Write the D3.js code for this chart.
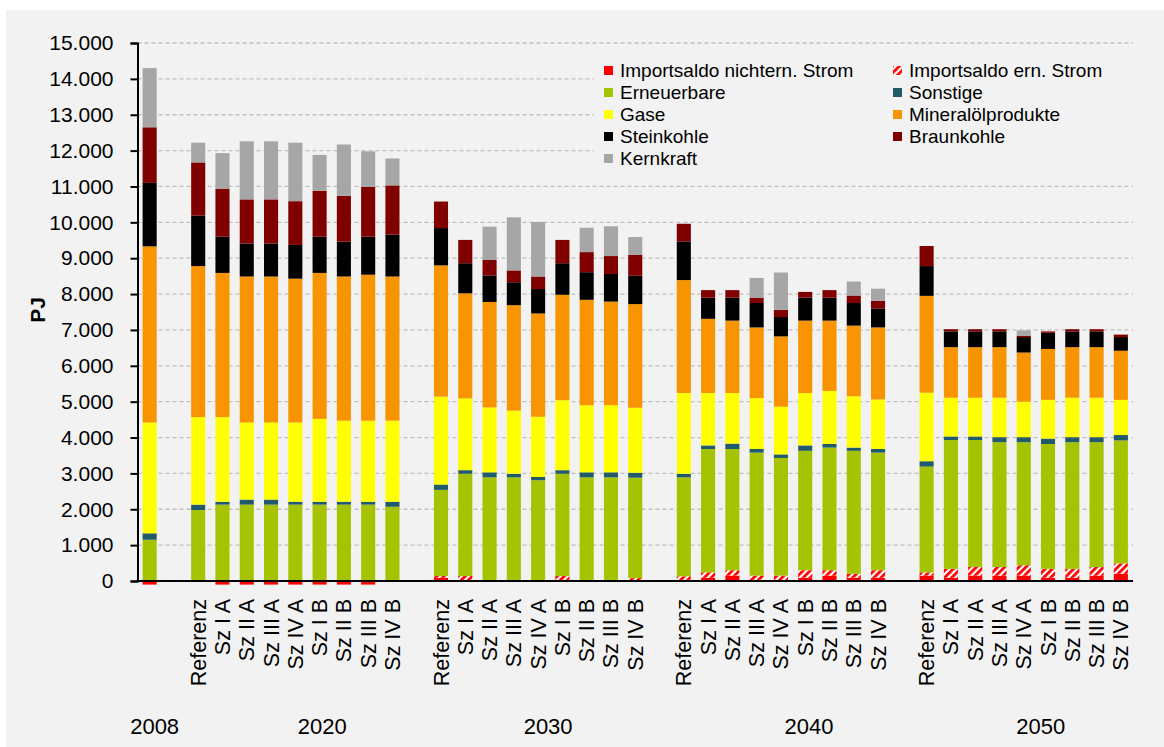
<!DOCTYPE html>
<html>
<head>
<meta charset="utf-8">
<script src="https://cdn.jsdelivr.net/npm/d3@7/dist/d3.min.js"></script>
<style>
  body { margin: 0; background: #fff; }
  svg { display: block; font-family: "Liberation Sans", Arial, sans-serif; }
</style>
</head>
<body>
<svg width="1164" height="747"></svg>
<script>
// years (outer labels) and scenarios (inner labels)
var years = ["2008", "2020", "2030", "2040", "2050"];
var scenarios = ["Referenz", "Sz I A", "Sz II A", "Sz III A", "Sz IV A", "Sz I B", "Sz II B", "Sz III B", "Sz IV B"];
var yearOffsets = [5, 27, 10, 28, 17]; // excel puts the year labels a bit off-centre

var yTicks = [0, 1000, 2000, 3000, 4000, 5000, 6000, 7000, 8000, 9000, 10000, 11000, 12000, 13000, 14000, 15000];

// series values, PJ: 2008, then 9 scenarios each for 2020, 2030, 2040, 2050
var importNichtErn = [-100,
  0, -100, -100, -100, -100, -100, -100, -100, 0,
  90, 0, 0, 0, 20, 0, 0, 0, 0,
  0, 90, 150, 0, 0, 90, 150, 90, 90,
  150, 90, 150, 150, 150, 90, 90, 150, 200];
var importErn = [0,
  0, 0, 0, 0, 0, 0, 0, 0, 0,
  50, 140, 0, 0, 0, 140, 0, 0, 80,
  130, 150, 150, 150, 150, 210, 150, 110, 210,
  90, 250, 240, 240, 290, 250, 250, 240, 290];
var erneuerbare = [1150,
  1980, 2130, 2130, 2130, 2130, 2130, 2130, 2130, 2070,
  2400, 2850, 2890, 2890, 2790, 2850, 2890, 2890, 2800,
  2760, 3440, 3380, 3430, 3280, 3330, 3420, 3430, 3280,
  2950, 3590, 3540, 3480, 3430, 3480, 3530, 3480, 3430];
var sonstige = [180,
  150, 80, 140, 140, 80, 80, 80, 80, 140,
  150, 100, 140, 100, 90, 100, 140, 140, 140,
  100, 100, 150, 100, 100, 150, 100, 90, 100,
  150, 100, 100, 140, 140, 150, 140, 140, 150];
var gase = [3090,
  2440, 2360, 2150, 2150, 2210, 2310, 2260, 2260, 2260,
  2450, 2000, 1810, 1760, 1680, 1950, 1870, 1870, 1810,
  2250, 1460, 1410, 1420, 1330, 1460, 1480, 1430, 1380,
  1910, 1080, 1080, 1100, 990, 1080, 1100, 1100, 980];
var mineraloel = [4910,
  4210, 4020, 4070, 4070, 4010, 4070, 4020, 4070, 4020,
  3660, 2930, 2940, 2940, 2880, 2940, 2940, 2890, 2890,
  3150, 2070, 2020, 1970, 1960, 2020, 1960, 1970, 2010,
  2700, 1410, 1410, 1410, 1370, 1420, 1410, 1410, 1370];
var steinkohle = [1770,
  1410, 1010, 920, 920, 940, 1010, 970, 1060, 1170,
  1040, 840, 740, 640, 680, 880, 770, 770, 790,
  1080, 590, 640, 680, 540, 640, 640, 630, 530,
  830, 440, 440, 440, 430, 450, 440, 440, 380];
var braunkohle = [1550,
  1480, 1340, 1230, 1230, 1220, 1280, 1280, 1390, 1370,
  740, 650, 430, 330, 350, 650, 560, 500, 580,
  490, 210, 210, 150, 200, 160, 210, 210, 210,
  560, 60, 60, 60, 40, 40, 60, 60, 70];
var kernkraft = [1650,
  550, 990, 1620, 1620, 1630, 1000, 1430, 990, 750,
  0, 0, 930, 1480, 1520, 0, 680, 830, 500,
  0, 0, 0, 550, 1040, 0, 0, 390, 340,
  0, 0, 0, 0, 150, 0, 0, 0, 0];

var series = [
  { key: "imp", name: "Importsaldo nichtern. Strom", values: importNichtErn, color: "#ff0000" },
  { key: "impErn", name: "Importsaldo ern. Strom", values: importErn, color: "url(#hatch)" },
  { key: "ern", name: "Erneuerbare", values: erneuerbare, color: "#a5c300" },
  { key: "son", name: "Sonstige", values: sonstige, color: "#215a69" },
  { key: "gas", name: "Gase", values: gase, color: "#ffff00" },
  { key: "oel", name: "Mineralölprodukte", values: mineraloel, color: "#f79400" },
  { key: "stk", name: "Steinkohle", values: steinkohle, color: "#000000" },
  { key: "bk", name: "Braunkohle", values: braunkohle, color: "#800000" },
  { key: "kern", name: "Kernkraft", values: kernkraft, color: "#a6a6a6" }
];

function draw() {
  /*
   * Build the category slots: one bar for 2008, then an empty slot
   * before each group of nine scenario bars.
   */
  var slots = [], bars = [], groups = [];
  var n = 0;
  years.forEach(function (yr, gi) {
    if (gi > 0) slots.push("gap" + gi);
    var labels = gi == 0 ? [""] : scenarios;
    var first = slots.length;
    labels.forEach(function (s) {
      var key = yr + "|" + s;
      slots.push(key);
      var d = { slot: key, label: s };
      series.forEach(function (se) { d[se.key] = se.values[n]; });
      bars.push(d);
      n++;
    });
    groups.push({ year: yr, first: slots[first], last: slots[slots.length - 1], off: yearOffsets[gi] });
  });

  var svg = d3.select("svg");
  var m = { left: 137.5, right: 1133, top: 43, bottom: 581 };

  svg.append("rect").attr("x", 6).attr("y", 10).attr("width", 1158).attr("height", 737).attr("fill", "#f2f2f2");

  var defs = svg.append("defs");
  var pat = defs.append("pattern").attr("id", "hatch")
    .attr("patternUnits", "userSpaceOnUse").attr("width", 5).attr("height", 5)
    .attr("patternTransform", "rotate(45)");
  pat.append("rect").attr("width", 5).attr("height", 5).attr("fill", "#ffffff");
  pat.append("rect").attr("width", 2.8).attr("height", 5).attr("fill", "#ff0000");

  var x = d3.scaleBand().domain(slots).range([m.left, m.right]).paddingInner(0.42).paddingOuter(0.21);
  var y = d3.scaleLinear().domain([0, 15000]).range([m.bottom, m.top]);

  // gridlines
  svg.append("g").selectAll("line").data(yTicks.slice(1)).enter().append("line")
    .attr("x1", m.left).attr("x2", m.right)
    .attr("y1", function (d) { return y(d); }).attr("y2", function (d) { return y(d); })
    .attr("stroke", "#c0c0c0").attr("stroke-width", 1.3).attr("stroke-dasharray", "4,3");

  // legend box hides the gridlines behind it
  svg.append("rect").attr("x", 594).attr("y", 57).attr("width", 539).attr("height", 115).attr("fill", "#f2f2f2");

  // stacked bars
  var stack = d3.stack().keys(series.map(function (s) { return s.key; }))
    .offset(d3.stackOffsetDiverging)(bars);

  svg.append("g").selectAll("g").data(stack).enter().append("g")
    .attr("fill", function (d, i) { return series[i].color; })
    .selectAll("rect").data(function (d) { return d; }).enter().append("rect")
    .attr("x", function (d) { return x(d.data.slot); })
    .attr("width", x.bandwidth())
    .attr("y", function (d) { return y(Math.max(d[0], d[1])); })
    .attr("height", function (d) { return Math.abs(y(d[0]) - y(d[1])); });

  // y axis
  var yAxis = svg.append("g").attr("transform", "translate(" + m.left + ",0)")
    .call(d3.axisLeft(y).tickValues(yTicks).tickSize(7).tickPadding(17)
      .tickFormat(function (d) { return d3.format(",")(d).replace(/,/g, "."); }));
  yAxis.select(".domain").attr("stroke", "#000").attr("stroke-width", 2);
  yAxis.selectAll(".tick line").attr("stroke", "#000").attr("stroke-width", 2);
  yAxis.selectAll("text").attr("font-size", 21).attr("fill", "#000")
    .attr("font-family", "Liberation Sans, Arial, sans-serif");

  // x axis line
  svg.append("line").attr("x1", m.left - 1).attr("x2", m.right).attr("y1", m.bottom).attr("y2", m.bottom)
    .attr("stroke", "#000").attr("stroke-width", 2);

  // scenario labels
  svg.append("g").selectAll("text").data(bars.filter(function (d) { return d.label; })).enter().append("text")
    .attr("transform", function (d) {
      return "translate(" + (x(d.slot) + x.bandwidth() / 2 + 7.5) + ",599) rotate(-90)";
    })
    .attr("text-anchor", "end").attr("font-size", 21.5).attr("fill", "#000")
    .text(function (d) { return d.label; });

  // year labels
  svg.append("g").selectAll("text").data(groups).enter().append("text")
    .attr("x", function (g) { return (x(g.first) + x(g.last) + x.bandwidth()) / 2 + g.off; })
    .attr("y", 734).attr("text-anchor", "middle").attr("font-size", 22).attr("fill", "#000")
    .text(function (g) { return g.year; });

  // y title
  svg.append("text").attr("transform", "translate(45,310) rotate(-90)")
    .attr("text-anchor", "middle").attr("font-size", 21).attr("font-weight", "bold")
    .text("PJ");

  // legend
  var items = svg.append("g").selectAll("g").data(series).enter().append("g")
    .attr("transform", function (d, i) {
      return "translate(" + (i % 2 == 0 ? 604 : 893) + "," + (70.5 + Math.floor(i / 2) * 22) + ")";
    });
  items.append("rect").attr("x", 0).attr("y", -4.5).attr("width", 9).attr("height", 9)
    .attr("fill", function (d) { return d.color; });
  items.append("text").attr("x", 16).attr("dy", "0.36em").attr("font-size", 19).attr("fill", "#000")
    .text(function (d) { return d.name; });
}

draw();
</script>
</body>
</html>
